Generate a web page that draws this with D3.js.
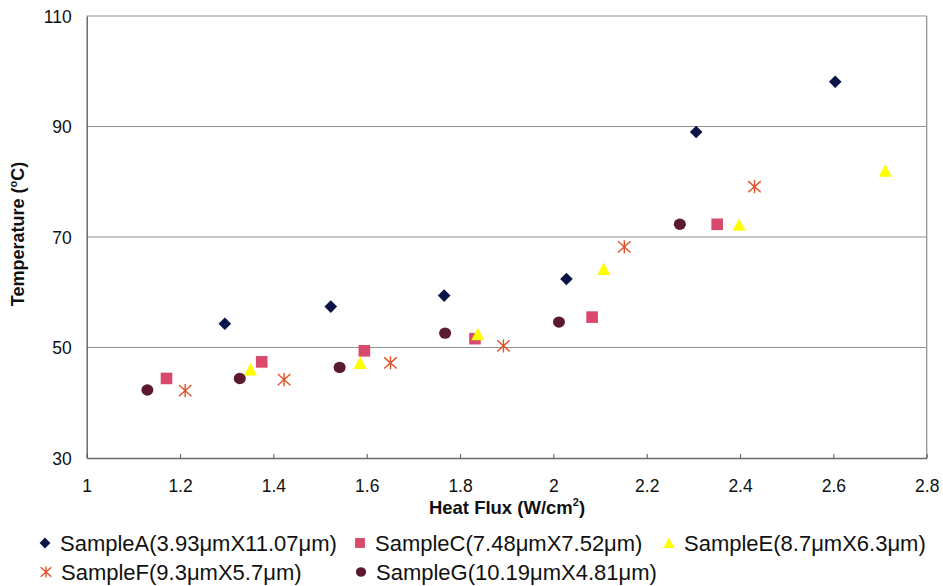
<!DOCTYPE html>
<html>
<head>
<meta charset="utf-8">
<script src="https://cdn.jsdelivr.net/npm/d3@7"></script>
<style>
  html, body { margin: 0; padding: 0; background: #fff; }
  svg { display: block; }
  text { font-family: "Liberation Sans", Arial, sans-serif; fill: #111; }
</style>
</head>
<body>
<svg id="chart" width="943" height="586"></svg>
<script>
// ---- data ----
const seriesNames = [
  "SampleA(3.93μmX11.07μm)",
  "SampleC(7.48μmX7.52μm)",
  "SampleE(8.7μmX6.3μm)",
  "SampleF(9.3μmX5.7μm)",
  "SampleG(10.19μmX4.81μm)"
];
const fluxA = [1.296, 1.523, 1.766, 2.028, 2.306, 2.604];
const tempA = [54.3, 57.4, 59.4, 62.4, 89.0, 98.1];
const fluxC = [1.171, 1.375, 1.595, 1.832, 2.083, 2.351];
const tempC = [44.4, 47.4, 49.4, 51.6, 55.5, 72.3];
const fluxE = [1.351, 1.586, 1.838, 2.108, 2.398, 2.711];
const tempE = [46.0, 47.2, 52.4, 64.2, 72.2, 82.0];
const fluxF = [1.211, 1.423, 1.651, 1.893, 2.152, 2.431];
const tempF = [42.2, 44.2, 47.2, 50.3, 68.2, 79.1];
const fluxG = [1.130, 1.328, 1.542, 1.768, 2.012, 2.271];
const tempG = [42.3, 44.4, 46.4, 52.6, 54.6, 72.3];
const xTicks = [1, 1.2, 1.4, 1.6, 1.8, 2, 2.2, 2.4, 2.6, 2.8];
const yTicks = [30, 50, 70, 90, 110];
const xTitle = "Heat Flux (W/cm";
const yTitle = "Temperature (";

// ---- styling ----
const colors = ["#0b1446", "#d9496b", "#ffff00", "#e0532a", "#5c1a2e"];
const shapes = ["diamond", "square", "triangle", "asterisk", "circle"];

const svg = d3.select("#chart");
const x = d3.scaleLinear().domain([1, 2.8]).range([86.7, 926.7]);
const y = d3.scaleLinear().domain([30, 110]).range([458, 16]);

// gridlines
svg.append("g").selectAll("line").data(yTicks.filter(d => d > 30)).join("line")
  .attr("x1", x(1)).attr("x2", x(2.8))
  .attr("y1", d => y(d)).attr("y2", d => y(d))
  .attr("stroke", "#8e9490").attr("stroke-width", 1.2);

// right border
svg.append("line").attr("x1", x(2.8)).attr("x2", x(2.8)).attr("y1", y(110)).attr("y2", y(30))
  .attr("stroke", "#8a8a8a").attr("stroke-width", 1.2);

// y axis
const yAxis = svg.append("g").attr("transform", `translate(${x(1)},0)`)
  .call(d3.axisLeft(y).tickValues(yTicks).tickSize(0).tickPadding(15).tickFormat(d3.format("d")));
yAxis.select(".domain").attr("stroke", "#555").attr("stroke-width", 1.3);
yAxis.selectAll("text").attr("font-size", 17.5).attr("font-family", "Liberation Sans, Arial, sans-serif")
  .attr("fill", "#111").attr("dy", "0.36em");

// x axis (ticks inward)
const xAxis = svg.append("g").attr("transform", `translate(0,${y(30)})`)
  .call(d3.axisBottom(x).tickValues(xTicks).tickSize(0).tickPadding(22).tickFormat(d => String(d)));
xAxis.select(".domain").attr("stroke", "#6a6a6a").attr("stroke-width", 1.3);
xAxis.selectAll("text").attr("font-size", 17.5).attr("font-family", "Liberation Sans, Arial, sans-serif")
  .attr("fill", "#111");
xAxis.selectAll(".tick").append("line").attr("y1", 0).attr("y2", -4)
  .attr("stroke", "#555").attr("stroke-width", 1);

// axis titles
const xt = svg.append("text").attr("x", 507).attr("y", 514).attr("text-anchor", "middle")
  .attr("font-size", 18.5).attr("font-weight", "bold");
xt.append("tspan").text(xTitle);
xt.append("tspan").attr("font-size", 11).attr("dy", -8).text("2");
xt.append("tspan").attr("dy", 8).text(")");

const yt = svg.append("text").attr("transform", "translate(24,234) rotate(-90)")
  .attr("text-anchor", "middle").attr("font-size", 18).attr("font-weight", "bold");
yt.append("tspan").text(yTitle);
yt.append("tspan").attr("font-size", 11).attr("dy", -7).text("o");
yt.append("tspan").attr("dy", 7).text("C)");

// marker drawing
function drawMarker(g, shape, color, scale) {
  const s = scale || 1;
  if (shape === "diamond") {
    g.append("path").attr("d", d3.symbol(d3.symbolSquare, 80 * s * s)())
      .attr("transform", "rotate(45)").attr("fill", color);
  } else if (shape === "square") {
    const h = 5.8 * s;
    g.append("rect").attr("x", -h).attr("y", -h).attr("width", 2 * h).attr("height", 2 * h).attr("fill", color);
  } else if (shape === "triangle") {
    const w = 6.5 * s, h = 6.3 * s;
    g.append("path").attr("d", `M0,${-h * 1.05}L${w},${h * 0.95}L${-w},${h * 0.95}Z`).attr("fill", color);
  } else if (shape === "circle") {
    g.append("ellipse").attr("rx", 6.0 * s).attr("ry", 5.7 * s).attr("fill", color);
  } else if (shape === "asterisk") {
    const r = 6.6 * s;
    const p = d3.path();
    p.moveTo(0, -r); p.lineTo(0, r);
    p.moveTo(-r * 0.95, -r * 0.85); p.lineTo(r * 0.95, r * 0.85);
    p.moveTo(-r * 0.95, r * 0.85); p.lineTo(r * 0.95, -r * 0.85);
    g.append("path").attr("d", p.toString()).attr("stroke", color).attr("stroke-width", 1.4).attr("fill", "none");
  }
}

const allX = [fluxA, fluxC, fluxE, fluxF, fluxG];
const allY = [tempA, tempC, tempE, tempF, tempG];
allX.forEach((xs, i) => {
  const pts = xs.map((v, j) => [v, allY[i][j]]);
  svg.append("g").selectAll("g").data(pts).join("g")
    .attr("transform", d => `translate(${x(d[0])},${y(d[1])})`)
    .each(function () { drawMarker(d3.select(this), shapes[i], colors[i]); });
});

// legend
const legendPos = [[45, 543], [360, 543], [669, 543], [46, 572], [361, 572]];
seriesNames.forEach((name, i) => {
  const g = svg.append("g").attr("transform", `translate(${legendPos[i][0]},${legendPos[i][1]})`);
  drawMarker(g, shapes[i], colors[i], 0.85);
  g.append("text").attr("x", 15).attr("y", 0).attr("dy", "0.36em")
    .attr("font-size", 22).text(name);
});
</script>
</body>
</html>
